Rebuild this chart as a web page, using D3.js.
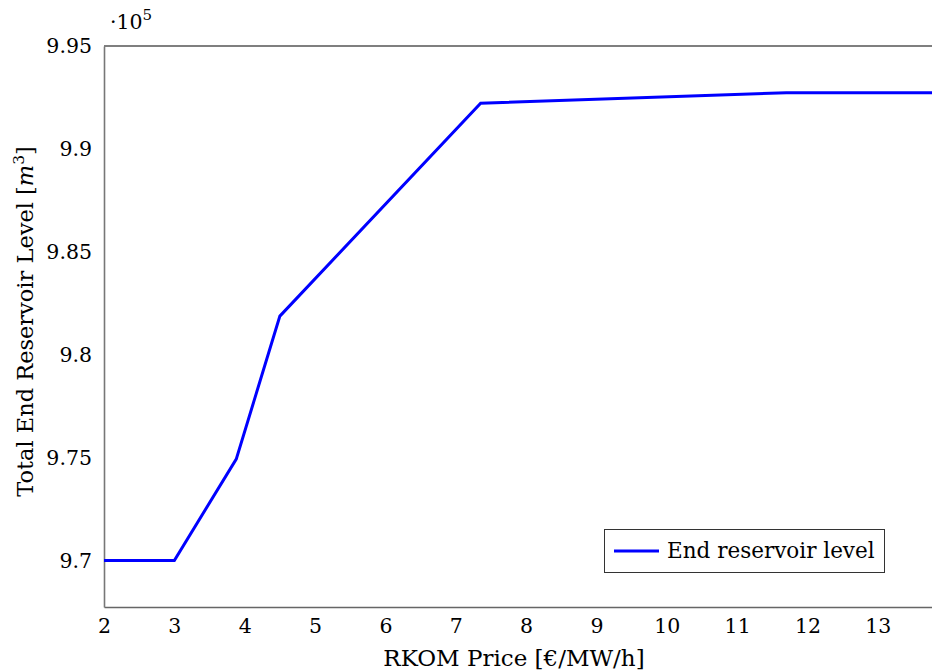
<!DOCTYPE html>
<html>
<head>
<meta charset="utf-8">
<script src="https://cdn.jsdelivr.net/npm/d3@7"></script>
<style>
  html, body { margin: 0; padding: 0; background: #fff; }
  svg { display: block; }
  text { font-family: "DejaVu Serif", "Liberation Serif", serif; fill: #000; }
</style>
</head>
<body>
<svg id="chart" width="932" height="671"></svg>
<script>
// RKOM price (€/MW/h) against total end reservoir level (×10^5 m³)
const rkomPrice = [2, 3, 3.88, 4.5, 7.354, 11.7, 13.77];
const endLevel  = [9.7003, 9.7003, 9.7495, 9.8189, 9.9222, 9.9273, 9.9273];
const xTicks = [2, 3, 4, 5, 6, 7, 8, 9, 10, 11, 12, 13];
const yTicks = [9.7, 9.75, 9.8, 9.85, 9.9, 9.95];
const yTickLabels = ["9.7", "9.75", "9.8", "9.85", "9.9", "9.95"];
const seriesName = "End reservoir level";

const svg = d3.select("#chart");
const plotLeft = 104, plotRight = 932, plotTop = 46, plotBottom = 607;

const x = d3.scaleLinear().domain([2, 13.77]).range([plotLeft, plotRight]);
const y = d3.scaleLinear().domain([9.6777, 9.95]).range([plotBottom, plotTop]);

// frame: top border black, left/bottom axis lines grey
svg.append("line").attr("x1", plotLeft).attr("x2", plotRight + 2)
  .attr("y1", plotTop).attr("y2", plotTop)
  .attr("stroke", "#000").attr("stroke-width", 1.2);

const fontSize = 20.5;

// x axis
const xAxis = d3.axisBottom(x).tickValues(xTicks).tickSize(0).tickPadding(11)
  .tickFormat(d3.format("d"));
const gx = svg.append("g").attr("transform", `translate(0,${plotBottom})`).call(xAxis);
gx.select(".domain").attr("stroke", "#666").attr("stroke-width", 1.4);
gx.selectAll("text").attr("font-size", fontSize)
  .style("font-family", '"DejaVu Serif", serif').attr("fill", "#000");

// y axis
const yAxis = d3.axisLeft(y).tickValues(yTicks).tickSize(0).tickPadding(12)
  .tickFormat((d, i) => yTickLabels[i]);
const gy = svg.append("g").attr("transform", `translate(${plotLeft},0)`).call(yAxis);
gy.select(".domain").attr("stroke", "#777").attr("stroke-width", 1.6);
gy.selectAll("text").attr("font-size", fontSize)
  .style("font-family", '"DejaVu Serif", serif').attr("fill", "#000");

// scale factor
const sf = svg.append("text").attr("x", 110).attr("y", 29).attr("font-size", fontSize);
sf.append("tspan").text("·10");
sf.append("tspan").attr("dy", -9).attr("font-size", 15).text("5");

// axis titles
svg.append("text").attr("x", (plotLeft + plotRight) / 2 - 4).attr("y", 666)
  .attr("text-anchor", "middle").attr("font-size", 23)
  .text("RKOM Price [€/MW/h]");

const yl = svg.append("text")
  .attr("transform", `translate(33,${(plotTop + plotBottom) / 2 - 5}) rotate(-90)`)
  .attr("text-anchor", "middle").attr("font-size", 22.5);
yl.append("tspan").text("Total End Reservoir Level [");
yl.append("tspan").attr("font-style", "italic").text("m");
yl.append("tspan").attr("dy", -9).attr("font-size", 15.5).text("3");
yl.append("tspan").attr("dy", 9).text("]");

// data line
const pts = rkomPrice.map((p, i) => [p, endLevel[i]]);
svg.append("path").datum(pts)
  .attr("fill", "none").attr("stroke", "#0000ff").attr("stroke-width", 3)
  .attr("stroke-linejoin", "miter")
  .attr("d", d3.line().x(d => x(d[0])).y(d => y(d[1])));

// legend
const lg = svg.append("g");
lg.append("rect").attr("x", 604.5).attr("y", 529.5).attr("width", 280).attr("height", 43)
  .attr("fill", "#fff").attr("stroke", "#333").attr("stroke-width", 1);
lg.append("line").attr("x1", 614).attr("x2", 659).attr("y1", 551).attr("y2", 551)
  .attr("stroke", "#0000ff").attr("stroke-width", 3);
lg.append("text").attr("x", 667).attr("y", 558).attr("font-size", 21.5).text(seriesName);
</script>
</body>
</html>
